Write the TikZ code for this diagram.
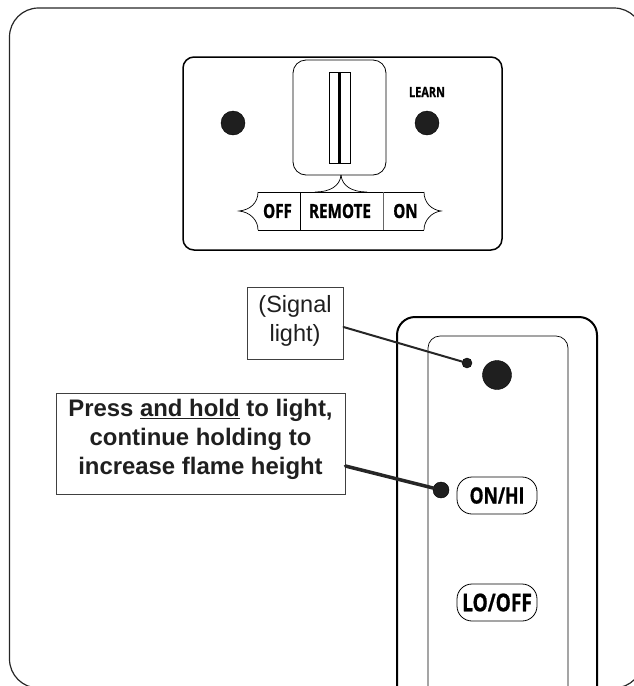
\documentclass[tikz,border=0pt]{standalone}
\usepackage{fontspec}
\setmainfont{Liberation Sans}
\newfontfamily\panelfont[FakeStretch=0.78,BoldFeatures={FakeStretch=0.78,FakeBold=0.8}]{Open Sans}
\usetikzlibrary{positioning}
\tikzset{
  calloutbox/.style={draw=black!75, line width=1pt, fill=white, inner sep=0pt, align=center, text=black!88},
  paneltext/.style={font=\panelfont\bfseries\fontsize{19.5}{19.5}\selectfont, inner sep=0pt},
  knob/.style={circle, fill=black!88, draw=black, inner sep=0pt},
  leader/.style={draw=black!85, line cap=round},
  pill/.style={draw=black, line width=.8pt, rounded corners=15pt, minimum width=80pt, minimum height=37pt, inner sep=0pt, paneltext}
}
\begin{document}
\begin{tikzpicture}[x=1pt,y=-1pt]
\useasboundingbox (0,0) rectangle (634,686);
\begin{scope}
\clip (0,0) rectangle (634,686);
% outer frame
\draw[line width=1.2pt, black!85, rounded corners=29pt] (9.5,8) rectangle (643,688);
% remote body
\draw[line width=2pt, rounded corners=18pt] (397,700) -- (397,317) -- (597,317) -- (597,700);
\draw[line width=.7pt, rounded corners=12pt] (428,700) -- (428,336) -- (568,336) -- (568,700);
\end{scope}
% wall panel
\draw[line width=1.5pt, rounded corners=11pt] (183,57) rectangle (502,250);
\draw[line width=.8pt, rounded corners=13pt] (293,60) rectangle (386,175);
\draw[line width=.7pt] (329,72) rectangle (350,163);
\draw[line width=3pt] (339,72) -- (339,163);
\node[knob, minimum size=24pt] (leftdot) at (233,123) {};
\node[knob, minimum size=24pt] (learndot) at (427,123) {};
\node[font=\panelfont\bfseries\fontsize{14}{14}\selectfont, inner sep=0pt] (learn) at (427,92) {LEARN};
% switch labels
\coordinate (neck) at (341,175);
\coordinate (offtop) at (258,192);
\coordinate (ontop) at (424,192);
\coordinate (offbot) at (258,230);
\coordinate (onbot) at (424,230);
\coordinate (offtip) at (239,211);
\coordinate (ontip) at (441,211);
\draw[line width=.7pt] (offtop) -- (ontop) (offbot) -- (onbot);
\draw[line width=.7pt] (neck) .. controls (340,186) and (330,192) .. (315,192);
\draw[line width=.7pt] (neck) .. controls (342,186) and (352,192) .. (367,192);
\draw[line width=.7pt] (offtop) .. controls (258,203) and (250,210) .. (offtip) .. controls (250,212) and (258,220) .. (offbot);
\draw[line width=.7pt] (ontop) .. controls (424,203) and (432,210) .. (ontip) .. controls (432,212) and (424,220) .. (onbot);
\draw[line width=.7pt] (300,192) -- (300,230);
\draw[line width=.8pt, black!60] (383,192) -- (383,230);
\node[paneltext] (off) at (277.5,211) {OFF};
\node[paneltext] (remote) at (340,211) {REMOTE};
\node[paneltext] (on) at (405.5,211) {ON};
% remote buttons
\node[knob, minimum size=29pt] (signal) at (497,375) {};
\node[pill, font=\panelfont\bfseries\fontsize{22.5}{22.5}\selectfont] (onhi) at (497,495.5) {ON/HI};
\node[pill, font=\panelfont\bfseries\fontsize{24.5}{24.5}\selectfont] (loff) at (497,602.5) {LO/OFF};
% callouts
\node[calloutbox, minimum width=96pt, minimum height=72pt, text depth=10pt, font=\fontsize{23.5}{29}\selectfont] (signalbox) at (295,323) {(Signal\\light)};
\node[calloutbox, minimum width=289pt, minimum height=101pt, text depth=14pt, font=\bfseries\fontsize{23.9}{29}\selectfont] (pressbox) at (200.5,443.5) {Press \underline{and hold} to light,\\continue holding to\\increase flame height};
\node[knob, minimum size=10pt] (signaldot) at (467,363) {};
\node[knob, minimum size=16pt] (pressdot) at (441,490) {};
\draw[leader, line width=2pt] (signalbox.east |- 0,327) -- (signaldot);
\draw[leader, line width=3.5pt] (pressbox.east |- 0,466) -- (pressdot);
\end{tikzpicture}
\end{document}
